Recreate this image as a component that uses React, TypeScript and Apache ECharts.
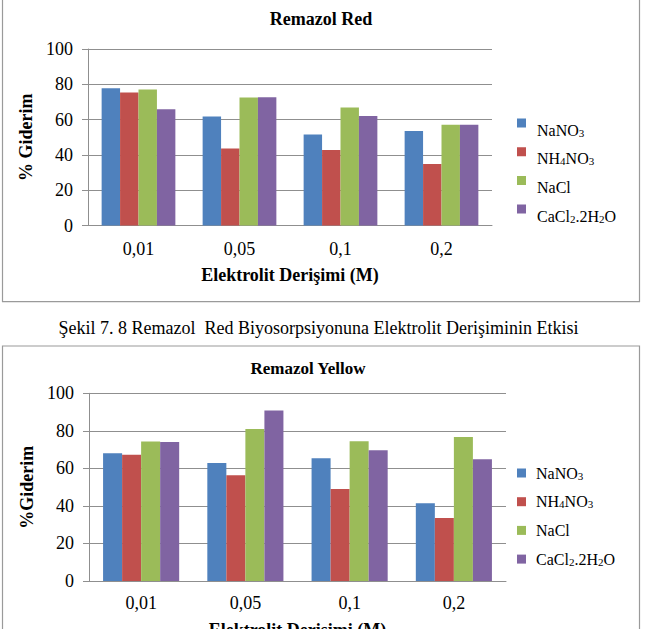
import React, { useEffect, useRef } from "react";
import * as echarts from "echarts";

const categories = ["0,01", "0,05", "0,1", "0,2"];
const seriesNames = ["NaNO3", "NH4NO3", "NaCl", "CaCl2.2H2O"];
const seriesColors = ["#4F81BD", "#C0504D", "#9BBB59", "#8064A2"];

const redNaNO3 = [77.7, 61.8, 51.6, 53.6];
const redNH4NO3 = [75.4, 43.6, 42.8, 34.9];
const redNaCl = [77.1, 72.5, 66.9, 57.1];
const redCaCl2 = [65.9, 72.7, 62.1, 57.1];

const yellowNaNO3 = [68.0, 62.9, 65.4, 41.4];
const yellowNH4NO3 = [67.3, 56.4, 49.0, 33.6];
const yellowNaCl = [74.3, 81.0, 74.4, 76.7];
const yellowCaCl2 = [74.0, 90.9, 69.6, 64.8];

const chartTitles = ["Remazol Red", "Remazol Yellow"];
const yAxisNames = ["% Giderim", "%Giderim"];
const xAxisName = "Elektrolit Derişimi (M)";
const caption = "Şekil 7. 8 Remazol  Red Biyosorpsiyonuna Elektrolit Derişiminin Etkisi";

const FONT = "Liberation Serif";
const GRID_COLOR = "#8f8f8f";
const FRAME_COLOR = "#9a9a9a";

const legendRich: Record<string, string> = {
  "NaNO3": "{n|NaNO}{s|3}",
  "NH4NO3": "{n|NH}{s|4}{n|NO}{s|3}",
  "NaCl": "{n|NaCl}",
  "CaCl2.2H2O": "{n|CaCl}{s|2}{n|.2H}{s|2}{n|O}",
};

export default function App() {
  const ref = useRef<HTMLDivElement>(null);

  useEffect(() => {
    if (!ref.current) return;
    const chart = echarts.init(ref.current, undefined, { renderer: "svg" });

    const data = [
      [redNaNO3, redNH4NO3, redNaCl, redCaCl2],
      [yellowNaNO3, yellowNH4NO3, yellowNaCl, yellowCaCl2],
    ];

    const grids = [
      { left: 88, top: 49, width: 404, height: 176.5, outerBoundsMode: "none", containLabel: false },
      { left: 89, top: 393.3, width: 417, height: 187.7, outerBoundsMode: "none", containLabel: false },
    ];
    const xLabelMargins = [14, 13];
    const xNameGaps = [40, 40];

    const xAxes = [0, 1].map((i) => ({
      type: "category",
      gridIndex: i,
      data: categories,
      axisTick: { show: false },
      axisLine: { show: true, lineStyle: { color: GRID_COLOR, width: 1 } },
      axisLabel: { color: "#000", fontFamily: FONT, fontSize: 18, margin: xLabelMargins[i] },
      name: xAxisName,
      nameLocation: "middle",
      nameGap: xNameGaps[i],
      nameTextStyle: { color: "#000", fontFamily: FONT, fontSize: 18, fontWeight: "bold" },
    }));

    const yAxes = [0, 1].map((i) => ({
      type: "value",
      gridIndex: i,
      min: 0,
      max: 100,
      interval: 20,
      axisLine: { show: true, lineStyle: { color: GRID_COLOR, width: 1 } },
      axisTick: { show: true, length: 6, lineStyle: { color: GRID_COLOR } },
      splitLine: { show: true, lineStyle: { color: GRID_COLOR, width: 1 } },
      axisLabel: { color: "#000", fontFamily: FONT, fontSize: 18, margin: 15 },
      name: yAxisNames[i],
      nameLocation: "middle",
      nameRotate: 90,
      nameGap: 38,
      nameTextStyle: { color: "#000", fontFamily: FONT, fontSize: 18, fontWeight: "bold" },
    }));

    const series: any[] = [];
    [0, 1].forEach((i) => {
      seriesNames.forEach((name, j) => {
        series.push({
          type: "bar",
          name,
          xAxisIndex: i,
          yAxisIndex: i,
          data: data[i][j],
          itemStyle: { color: seriesColors[j] },
          barGap: "0%",
          barCategoryGap: "27%",
        });
      });
    });

    const legendBase = (
      top: number,
      icon: string,
      itemHeight: number,
      padLeft: number,
      gap: number
    ) => ({
      orient: "vertical",
      left: 517,
      top,
      padding: 0,
      itemWidth: 9,
      itemHeight,
      itemGap: gap,
      icon,
      data: seriesNames,
      selectedMode: false,
      formatter: (name: string) => legendRich[name] || name,
      textStyle: {
        color: "#000",
        fontFamily: FONT,
        fontSize: 16,
        padding: [0, 0, 0, padLeft],
        rich: {
          n: { fontFamily: FONT, fontSize: 16, lineHeight: 16, color: "#000", verticalAlign: "middle" },
          s: { fontFamily: FONT, fontSize: 11, lineHeight: 10, color: "#000", verticalAlign: "bottom" },
        },
      },
    });

    // chart 1: squares sit ~7px above the text centre (as in the reference)
    const raisedSquare = "path://M0,0L9,0L9,9L0,9ZM0,23L0.01,23";

    const option: any = {
      animation: false,
      backgroundColor: "#ffffff",
      grid: grids,
      xAxis: xAxes,
      yAxis: yAxes,
      series,
      legend: [
        legendBase(118.5, raisedSquare, 23, 6, 5.7),
        legendBase(465, "rect", 9, 5, 12.7),
      ],
      graphic: [
        {
          type: "rect",
          shape: { x: 2.5, y: -2, width: 637, height: 303.7 },
          style: { fill: "none", stroke: FRAME_COLOR, lineWidth: 1.2 },
          silent: true,
        },
        {
          type: "rect",
          shape: { x: 2.5, y: 346, width: 637, height: 300 },
          style: { fill: "none", stroke: FRAME_COLOR, lineWidth: 1.2 },
          silent: true,
        },
        {
          type: "text",
          x: 321,
          y: 19,
          style: {
            text: chartTitles[0],
            font: `bold 18px ${FONT}`,
            fill: "#000",
            textAlign: "center",
            textVerticalAlign: "middle",
            align: "center",
            verticalAlign: "middle",
          },
        },
        {
          type: "text",
          x: 308,
          y: 368.3,
          style: {
            text: chartTitles[1],
            font: `bold 17px ${FONT}`,
            fill: "#000",
            textAlign: "center",
            textVerticalAlign: "middle",
            align: "center",
            verticalAlign: "middle",
          },
        },
        {
          type: "text",
          x: 318.5,
          y: 327.7,
          style: {
            text: caption,
            font: `18px ${FONT}`,
            fill: "#000",
            textAlign: "center",
            textVerticalAlign: "middle",
            align: "center",
            verticalAlign: "middle",
          },
        },
      ],
    };

    chart.setOption(option);
    return () => chart.dispose();
  }, []);

  return (
    <div
      ref={ref}
      style={{ position: "absolute", left: 0, top: 0, width: 647, height: 629, background: "#fff" }}
    />
  );
}
